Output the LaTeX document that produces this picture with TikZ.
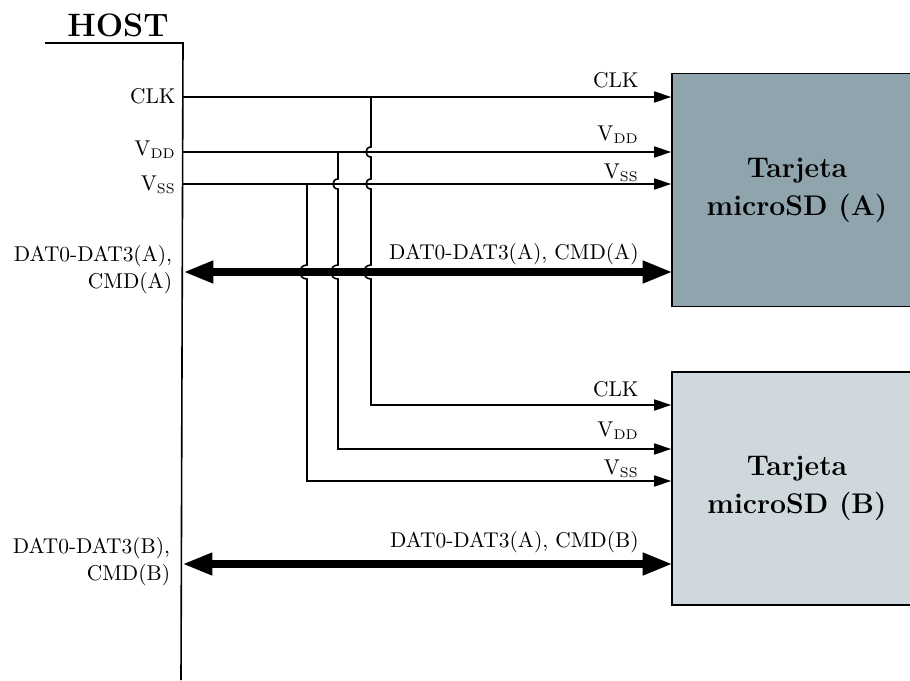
\documentclass[tikz,border=0pt]{standalone}
\usetikzlibrary{arrows.meta,calc}
\definecolor{cardA}{HTML}{90A4AE}
\definecolor{cardB}{HTML}{CFD8DC}
\newcommand{\hop}[3]{-- (#1,#2-#3) .. controls (#1-1.33*#3,#2-#3) and (#1-1.33*#3,#2+#3) .. (#1,#2+#3)}
\tikzset{
  wire/.style={line width=0.8pt,-{Triangle[length=8.5pt,width=5.5pt]}},
  bus/.style={line width=3.6pt,{Triangle[length=15pt,width=10.5pt]}-{Triangle[length=15pt,width=10.5pt]},shorten >=-0.7pt,shorten <=0.2pt},
  card/.style={draw=black,line width=0.8pt,minimum width=125pt,minimum height=116.5pt,align=center,inner sep=0pt,font=\fontsize{14.2}{19}\selectfont\bfseries},
  lab/.style={anchor=base east,inner sep=0pt,font=\fontsize{10.7}{13.4}\selectfont},
  blab/.style={lab,align=right}
}
\begin{document}
\begin{tikzpicture}[x=0.5pt,y=-0.5pt]
\useasboundingbox (0,0) rectangle (910,680);
% host boundary
\coordinate (hostL) at (45,43);
\coordinate (hostT) at (183,43);
\coordinate (hostB) at (181,680);
\draw[line width=0.8pt] (hostL) -- (hostT) -- (hostB);
\node[anchor=base,inner sep=0pt,font=\fontsize{16.2}{18}\selectfont\bfseries] (hostlab) at (118,36) {HOST};
% cards
\node[card,fill=cardA] (cardA) at (797,190) {Tarjeta\\microSD (A)};
\node[card,fill=cardB] (cardB) at (797,488.5) {Tarjeta\\microSD (B)};
% host side coordinates
\coordinate (hclk) at (183,97);
\coordinate (hvdd) at (183,152);
\coordinate (hvss) at (183,184);
\coordinate (hbusA) at (183,272);
\coordinate (hbusB) at (182,564);
% junctions and lower corners
\coordinate (jclk) at (371,97);
\coordinate (jvdd) at (338,152);
\coordinate (jvss) at (307,184);
\coordinate (cclk) at (371,405);
\coordinate (cvdd) at (338,449);
\coordinate (cvss) at (307,481);
% top wires
\draw[wire] (hclk) -- (hclk -| cardA.west);
\draw[wire] (hvdd) -- (hvdd -| cardA.west);
\draw[wire] (hvss) -- (hvss -| cardA.west);
\draw[bus] (hbusA) -- (hbusA -| cardA.west);
\draw[bus] (hbusB) -- (hbusB -| cardB.west);
% vertical wires with hops
\draw[wire] (jclk) \hop{371}{152}{5} \hop{371}{184}{5} \hop{371}{272}{7} -- (cclk) -- (cclk -| cardB.west);
\draw[wire] (jvdd) \hop{338}{184}{5} \hop{338}{272}{7} -- (cvdd) -- (cvdd -| cardB.west);
\draw[wire] (jvss) \hop{307}{272}{7} -- (cvss) -- (cvss -| cardB.west);
% host labels
\node[lab] (lhclk) at (176,103) {CLK};
\node[lab] (lhvdd) at (176,155) {V$_{\rm DD}$};
\node[lab] (lhvss) at (176,190) {V$_{\rm SS}$};
\node[blab] (lhbusA) at (172.5,288.5) {DAT0-DAT3(A),\\CMD(A)};
\node[blab] (lhbusB) at (170.5,580) {DAT0-DAT3(B),\\CMD(B)};
% card-side labels
\node[lab] (laclk) at (639,87) {CLK};
\node[lab] (lavdd) at (639,140) {V$_{\rm DD}$};
\node[lab] (lavss) at (639,178) {V$_{\rm SS}$};
\node[lab] (labus) at (639,259.5) {DAT0-DAT3(A), CMD(A)};
\node[lab] (lbclk) at (639,396) {CLK};
\node[lab] (lbvdd) at (639,436) {V$_{\rm DD}$};
\node[lab] (lbvss) at (639,474) {V$_{\rm SS}$};
\node[lab] (lbbus) at (639,547.5) {DAT0-DAT3(A), CMD(B)};
\end{tikzpicture}
\end{document}
